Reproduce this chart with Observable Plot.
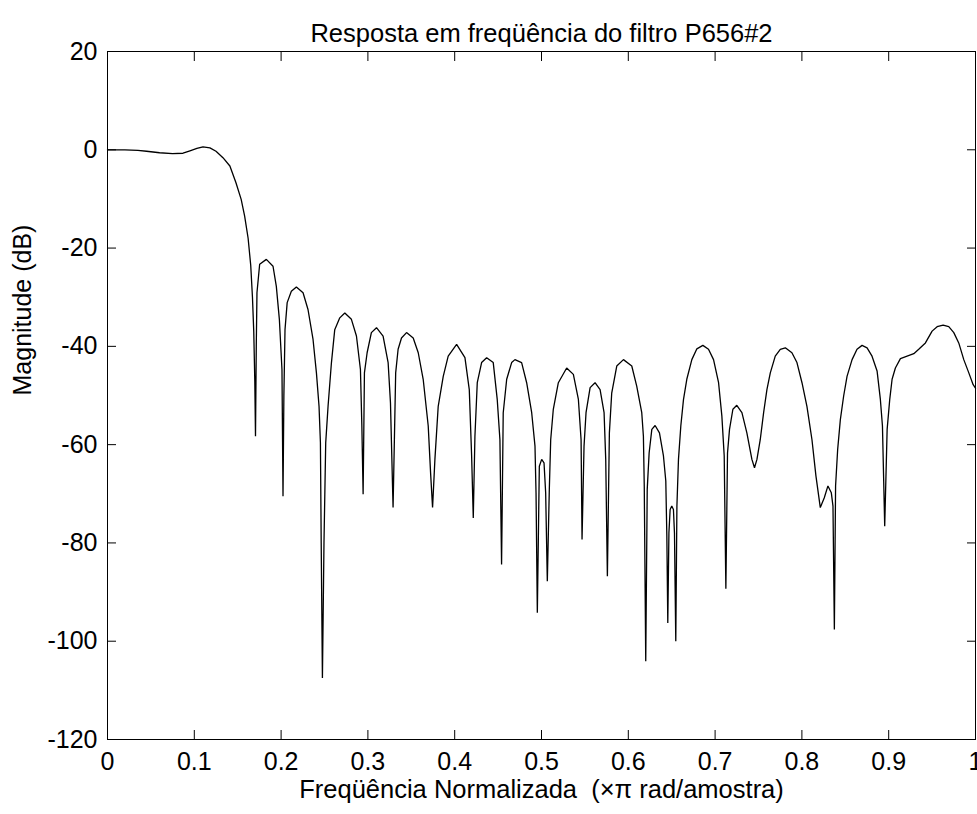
<!DOCTYPE html>
<html>
<head>
<meta charset="utf-8">
<script src="https://cdn.jsdelivr.net/npm/d3@7"></script>
<script src="https://cdn.jsdelivr.net/npm/@observablehq/plot@0.6"></script>
<style>
  html, body { margin: 0; padding: 0; background: #fff; }
  #chart svg { display: block; }
</style>
</head>
<body>
<div id="chart"></div>
<script>
const titleText = "Resposta em freqüência do filtro P656#2";
const xLabelText = "Freqüência Normalizada  (×π rad/amostra)";
const yLabelText = "Magnitude (dB)";

const xTicks = [0, 0.1, 0.2, 0.3, 0.4, 0.5, 0.6, 0.7, 0.8, 0.9, 1];
const xTickLabels = ["0", "0.1", "0.2", "0.3", "0.4", "0.5", "0.6", "0.7", "0.8", "0.9", "1"];
const yTicks = [20, 0, -20, -40, -60, -80, -100, -120];
const yTickLabels = ["20", "0", "-20", "-40", "-60", "-80", "-100", "-120"];

const freq = [
  0.000, 0.020, 0.035, 0.045, 0.060, 0.075, 0.087, 0.095, 0.103, 0.110,
  0.118, 0.125, 0.133, 0.141, 0.148, 0.154, 0.158, 0.162, 0.165, 0.167,
  0.1685, 0.1697, 0.1705, 0.1714, 0.1722, 0.1753, 0.183, 0.1907, 0.1945, 0.198,
  0.201, 0.2022, 0.2032, 0.2045, 0.207, 0.2118, 0.2176, 0.2253, 0.231, 0.2368,
  0.2407, 0.2437, 0.2453, 0.2462, 0.2476, 0.2494, 0.2514, 0.2541, 0.258, 0.2618,
  0.2676, 0.2734, 0.281, 0.2868, 0.2914, 0.293, 0.2945, 0.296, 0.2991, 0.304,
  0.3099, 0.3175, 0.3233, 0.326, 0.329, 0.332, 0.3348, 0.3387, 0.3445, 0.3522,
  0.358, 0.3637, 0.3695, 0.3722, 0.3745, 0.3772, 0.381, 0.3868, 0.3925, 0.4022,
  0.4118, 0.4168, 0.4195, 0.4214, 0.4233, 0.426, 0.431, 0.4368, 0.4444, 0.449,
  0.4521, 0.454, 0.4559, 0.4599, 0.4656, 0.4694, 0.4771, 0.4829, 0.4887, 0.4925,
  0.4937, 0.4952, 0.4975, 0.5002, 0.5029, 0.5048, 0.5067, 0.509, 0.5106, 0.5136,
  0.5194, 0.529, 0.5367, 0.5425, 0.5456, 0.5467, 0.549, 0.5513, 0.556, 0.5617,
  0.5675, 0.5721, 0.574, 0.5759, 0.5782, 0.5809, 0.5867, 0.5944, 0.604, 0.6097,
  0.6155, 0.6174, 0.6184, 0.6201, 0.6218, 0.624, 0.6271, 0.6309, 0.6359, 0.6405,
  0.6432, 0.6444, 0.6455, 0.6468, 0.6482, 0.6501, 0.652, 0.6532, 0.6547, 0.656,
  0.6578, 0.6605, 0.6636, 0.6674, 0.6732, 0.679, 0.6859, 0.6924, 0.6982, 0.704,
  0.7078, 0.7105, 0.7124, 0.7143, 0.7166, 0.7205, 0.725, 0.7309, 0.7366, 0.7424,
  0.7454, 0.7482, 0.752, 0.7559, 0.7597, 0.7636, 0.7693, 0.7751, 0.7809, 0.7885,
  0.7943, 0.8001, 0.8058, 0.8116, 0.8162, 0.8212, 0.8258, 0.83, 0.8339, 0.8358,
  0.8374, 0.8388, 0.8412, 0.8443, 0.8481, 0.852, 0.8578, 0.8635, 0.8693, 0.8751,
  0.8808, 0.8866, 0.8904, 0.8928, 0.8954, 0.8982, 0.9012, 0.9039, 0.9077, 0.9135,
  0.9212, 0.9289, 0.9346, 0.9423, 0.95, 0.9558, 0.9627, 0.9692, 0.975, 0.9807,
  0.9865, 0.9923, 0.9973, 1.0
];
const magDb = [
  0.0, 0.0, -0.1, -0.3, -0.6, -0.8, -0.7, -0.2, 0.3, 0.6,
  0.4, -0.3, -1.6, -3.3, -6.7, -10.1, -13.5, -18.0, -23.5, -30.0,
  -37.0, -47.0, -58.3, -40.0, -29.1, -23.3, -22.3, -23.7, -27.8, -34.5,
  -44.7, -70.5, -50.0, -36.6, -31.1, -28.8, -27.9, -29.1, -32.5, -38.6,
  -45.4, -52.2, -59.6, -80.0, -107.5, -80.0, -59.6, -52.2, -43.3, -36.6,
  -34.2, -33.2, -34.5, -37.9, -44.7, -55.9, -70.1, -45.4, -41.3, -37.2,
  -36.2, -37.9, -43.3, -51.5, -72.8, -45.4, -40.6, -38.3, -37.2, -38.3,
  -41.3, -46.7, -56.2, -65.7, -72.8, -63.0, -52.2, -46.1, -42.0, -39.6,
  -42.3, -48.8, -62.3, -74.9, -58.3, -47.4, -43.3, -42.3, -43.3, -50.8,
  -59.0, -84.4, -53.5, -46.7, -43.3, -42.7, -43.3, -47.4, -53.5, -60.3,
  -69.8, -94.2, -64.4, -63.0, -63.7, -69.8, -87.8, -69.1, -59.0, -52.8,
  -47.4, -44.4, -45.7, -50.8, -59.0, -79.3, -60.3, -53.5, -48.4, -47.4,
  -48.8, -53.5, -63.0, -86.8, -57.6, -49.5, -44.0, -42.7, -44.0, -48.1,
  -53.5, -58.3, -68.5, -104.1, -69.1, -61.7, -56.9, -56.1, -57.6, -62.3,
  -67.4, -78.6, -96.3, -77.9, -73.2, -72.5, -73.2, -78.0, -100.0, -72.5,
  -63.0, -56.2, -50.8, -46.7, -42.7, -40.5, -39.8, -40.6, -42.7, -47.4,
  -54.2, -62.3, -89.3, -61.7, -56.9, -52.8, -52.0, -53.5, -57.6, -63.0,
  -64.7, -63.0, -59.0, -53.5, -48.8, -45.4, -42.0, -40.6, -40.3, -41.3,
  -43.3, -47.4, -52.2, -59.0, -66.4, -72.8, -70.8, -68.4, -69.8, -72.5,
  -97.6, -68.4, -61.0, -54.9, -50.1, -46.1, -42.7, -40.6, -39.8, -40.3,
  -42.0, -45.0, -50.8, -56.2, -76.6, -56.9, -50.8, -46.7, -44.4, -42.5,
  -42.0, -41.5, -40.6, -39.3, -36.9, -36.0, -35.7, -36.0, -37.2, -39.3,
  -42.7, -45.4, -47.8, -48.5
];

const data = freq.map((f, i) => ({f, db: magDb[i]}));
const font = "'Liberation Sans', Arial, Helvetica, sans-serif";

const chart = Plot.plot({
  width: 977,
  height: 814,
  marginLeft: 107,
  marginRight: 2,
  marginTop: 51,
  marginBottom: 75,
  style: {fontFamily: font, fontSize: "25px", color: "black", background: "white"},
  x: {domain: [0, 1]},
  y: {domain: [-120, 20]},
  marks: [
    Plot.frame({stroke: "black", strokeWidth: 1}),
    // inward ticks on all four sides
    Plot.axisX({anchor: "bottom", ticks: xTicks, tickSize: 9, dy: -9, fill: "none", label: null}),
    Plot.axisX({anchor: "top", ticks: xTicks, tickSize: 9, dy: 9, fill: "none", label: null}),
    Plot.axisY({anchor: "left", ticks: yTicks, tickSize: 9, dx: 9, fill: "none", label: null}),
    Plot.axisY({anchor: "right", ticks: yTicks, tickSize: 9, dx: -9, fill: "none", label: null}),
    // tick labels
    Plot.axisX({anchor: "bottom", ticks: xTicks, tickSize: 0, tickPadding: 13, fontSize: 25,
      tickFormat: d => xTickLabels[xTicks.indexOf(d)], label: null}),
    Plot.axisY({anchor: "left", ticks: yTicks, tickSize: 0, tickPadding: 10, fontSize: 25,
      tickFormat: d => yTickLabels[yTicks.indexOf(d)], label: null}),
    // curve
    Plot.line(data, {x: "f", y: "db", stroke: "black", strokeWidth: 1.3, strokeLinejoin: "miter"}),
    // texts
    Plot.text([titleText], {text: d => d, frameAnchor: "top", dy: -28, fontSize: 25.5, fill: "black"}),
    Plot.text([xLabelText], {text: d => d, frameAnchor: "bottom", dy: 58, fontSize: 25.5, fill: "black"}),
    Plot.text([yLabelText], {text: d => d, frameAnchor: "left", dx: -85, rotate: -90, fontSize: 25, fill: "black"})
  ]
});
document.getElementById("chart").appendChild(chart);
</script>
</body>
</html>
